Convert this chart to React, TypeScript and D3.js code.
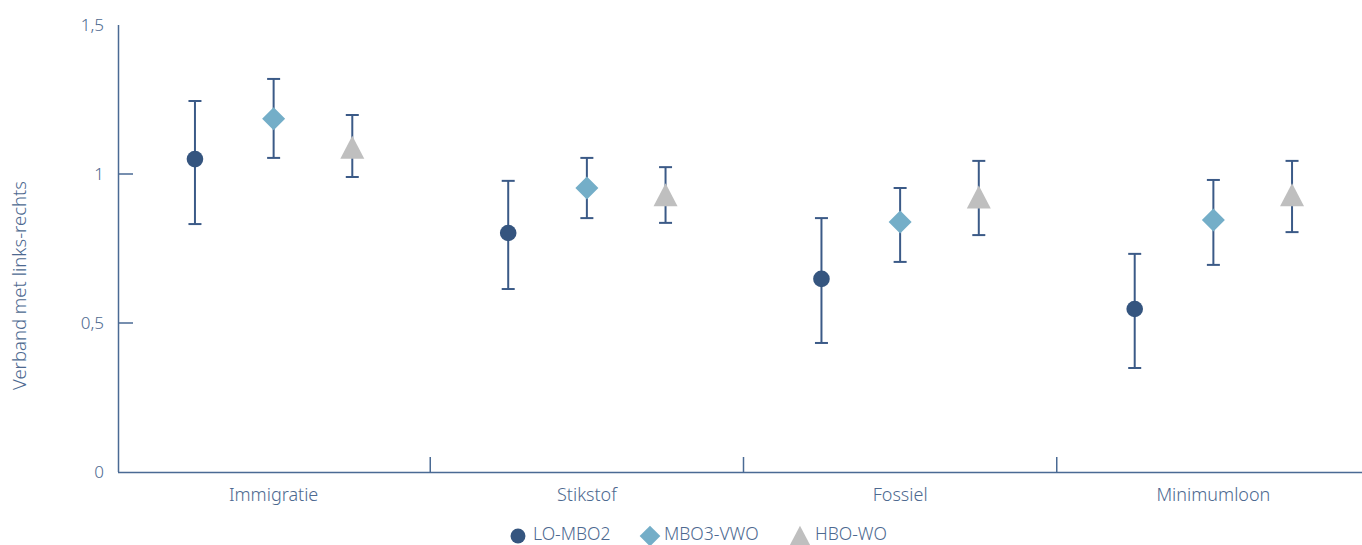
import React from "react";
import * as d3 from "d3";

const categories = ["Immigratie", "Stikstof", "Fossiel", "Minimumloon"];
const seriesNames = ["LO-MBO2", "MBO3-VWO", "HBO-WO"];
const values = [
  [1.05, 0.802, 0.648, 0.547],
  [1.185, 0.953, 0.839, 0.846],
  [1.09, 0.93, 0.923, 0.93],
];
const upper = [
  [1.245, 0.977, 0.852, 0.732],
  [1.319, 1.054, 0.953, 0.98],
  [1.198, 1.023, 1.044, 1.044],
];
const lower = [
  [0.832, 0.614, 0.433, 0.349],
  [1.054, 0.852, 0.705, 0.695],
  [0.99, 0.836, 0.795, 0.805],
];
const yTicks = [0, 0.5, 1, 1.5];
const yTickLabels = ["0", "0,5", "1", "1,5"];

const W = 1362;
const H = 545;
const axisColor = "#4a6a94";
const textColor = "#4d6990";
const errColor = "#3b5a87";
const colors = ["#35557f", "#74aec8", "#bfbfbf"];
const font = "'Noto Sans', 'Open Sans', sans-serif";

export default function App() {
  const y = d3.scaleLinear().domain([0, 1.5]).range([472, 25]);
  const x = d3.scaleBand().domain(categories).range([117, 1370]);
  const inner = d3.scaleBand().domain(seriesNames).range([-118, 118]).paddingInner(0);
  const off = (s: string) => (inner(s) as number) + inner.bandwidth() / 2;

  const marker = (si: number, cx: number, cy: number, k = 1) => {
    if (si === 0) return <circle cx={cx} cy={cy} r={8.3 * k} fill={colors[0]} />;
    if (si === 1) {
      const s = 11.5 * k;
      return <path d={`M${cx},${cy - s}L${cx + s},${cy}L${cx},${cy + s}L${cx - s},${cy}Z`} fill={colors[1]} />;
    }
    const hw = 12 * k, hh = 11.5 * k;
    return <path d={`M${cx},${cy - hh}L${cx + hw},${cy + hh}L${cx - hw},${cy + hh}Z`} fill={colors[2]} />;
  };

  const boundaries = categories.slice(1).map((c) => x(c) as number);

  const legendItems = [
    { x: 518, tx: 533 },
    { x: 650, tx: 664 },
    { x: 800, tx: 815 },
  ];

  return (
    <svg width={W} height={H} style={{ position: "absolute", left: 0, top: 0 }}>
      <rect width={W} height={H} fill="#fff" />
      <line x1={118.5} x2={118.5} y1={y(1.5)} y2={y(0)} stroke={axisColor} strokeWidth={1.5} />
      <line x1={118} x2={1370} y1={y(0) + 0.5} y2={y(0) + 0.5} stroke={axisColor} strokeWidth={1.5} />
      {yTicks.map((t, i) => (
        <g key={t}>
          {t > 0 && t < 1.5 && (
            <line x1={118} x2={133} y1={y(t)} y2={y(t)} stroke={axisColor} strokeWidth={1.5} />
          )}
          <text x={104} y={y(t)} dy="0.35em" textAnchor="end" fontSize={17} fill={textColor} fontFamily={font} fontWeight={300}>
            {yTickLabels[i]}
          </text>
        </g>
      ))}
      <text
        transform={`translate(26,${(y(0) + y(1.5)) / 2 + 37}) rotate(-90)`}
        textAnchor="middle"
        fontSize={18.5}
        fill={textColor}
        fontFamily={font}
        fontWeight={300}
      >
        Verband met links-rechts
      </text>
      {boundaries.map((b) => (
        <line key={b} x1={b} x2={b} y1={y(0) - 15} y2={y(0)} stroke={axisColor} strokeWidth={1.5} />
      ))}
      {categories.map((c) => (
        <text key={c} x={(x(c) as number) + x.bandwidth() / 2} y={501} textAnchor="middle" fontSize={18} fill={textColor} fontFamily={font} fontWeight={300}>
          {c}
        </text>
      ))}
      {seriesNames.map((s, si) =>
        categories.map((c, ci) => {
          const cx = (x(c) as number) + x.bandwidth() / 2 + off(s);
          const cy = y(values[si][ci]);
          const yu = y(upper[si][ci]);
          const yl = y(lower[si][ci]);
          return (
            <g key={s + c}>
              <line x1={cx} x2={cx} y1={yu} y2={yl} stroke={errColor} strokeWidth={2} />
              <line x1={cx - 6.5} x2={cx + 6.5} y1={yu} y2={yu} stroke={errColor} strokeWidth={2} />
              <line x1={cx - 6.5} x2={cx + 6.5} y1={yl} y2={yl} stroke={errColor} strokeWidth={2} />
              {marker(si, cx, cy)}
            </g>
          );
        })
      )}
      {seriesNames.map((s, si) => (
        <g key={s}>
          {marker(si, legendItems[si].x, 536, 0.9)}
          <text x={legendItems[si].tx} y={540} fontSize={17.5} fill={textColor} fontFamily={font} fontWeight={300}>
            {s}
          </text>
        </g>
      ))}
    </svg>
  );
}
